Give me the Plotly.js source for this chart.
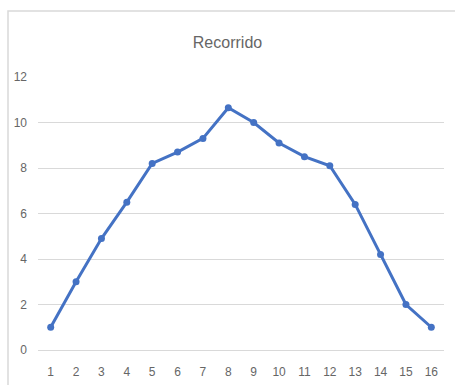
<!DOCTYPE html>
<html>
<head>
<meta charset="utf-8">
<script src="https://cdn.plot.ly/plotly-3.0.1.min.js"></script>
<style>
  html, body { margin: 0; padding: 0; background: #ffffff; }
  #chart { width: 455px; height: 385px; }
</style>
</head>
<body>
<div id="chart"></div>
<script>
// Stops along the route and the distance covered at each one
const stops = [1, 2, 3, 4, 5, 6, 7, 8, 9, 10, 11, 12, 13, 14, 15, 16];
const distance = [1, 3, 4.9, 6.5, 8.2, 8.7, 9.3, 10.65, 10, 9.1, 8.5, 8.1, 6.4, 4.2, 2, 1];
const yTicks = [0, 2, 4, 6, 8, 10, 12];
const chartTitle = 'Recorrido';

const fontFamily = '"Liberation Sans Narrow", "Liberation Sans", Arial, sans-serif';
const textGray = '#666666';
const gridGray = '#d9d9d9';

const trace = {
  x: stops,
  y: distance,
  type: 'scatter',
  mode: 'lines+markers',
  line: { color: '#4472C4', width: 3 },
  marker: { color: '#4472C4', size: 7 },
  hoverinfo: 'x+y'
};

const layout = {
  width: 455,
  height: 385,
  margin: { l: 38, r: 11, t: 77, b: 35 },
  paper_bgcolor: '#ffffff',
  plot_bgcolor: '#ffffff',
  showlegend: false,
  title: {
    text: chartTitle,
    font: { family: fontFamily, size: 16, color: textGray },
    x: 0.5,
    xanchor: 'center',
    y: 1 - 42 / 385,
    yanchor: 'middle'
  },
  xaxis: {
    range: [0.5, 16.5],
    tickmode: 'array',
    tickvals: stops,
    ticktext: stops.map(String),
    showgrid: false,
    zeroline: false,
    showline: true,
    linecolor: gridGray,
    linewidth: 1,
    ticks: '',
    ticklabelstandoff: 11,
    tickfont: { family: fontFamily, size: 12, color: textGray },
    fixedrange: true
  },
  yaxis: {
    range: [0, 12],
    tickmode: 'array',
    tickvals: yTicks,
    showgrid: true,
    gridcolor: gridGray,
    gridwidth: 1,
    zeroline: false,
    showline: false,
    ticks: '',
    ticklabelstandoff: 10,
    tickfont: { family: fontFamily, size: 12, color: textGray },
    fixedrange: true
  },
  shapes: [
    // chart frame (left and top edges visible)
    {
      type: 'rect', xref: 'paper', yref: 'paper',
      x0: (8 - 38) / 406, x1: 1.2,
      y0: -0.3, y1: (350 - 11) / 273,
      line: { color: gridGray, width: 1.5 },
      fillcolor: 'rgba(0,0,0,0)',
      layer: 'below'
    }
  ]
};

Plotly.newPlot('chart', [trace], layout, { displayModeBar: false, staticPlot: true });
</script>
</body>
</html>
